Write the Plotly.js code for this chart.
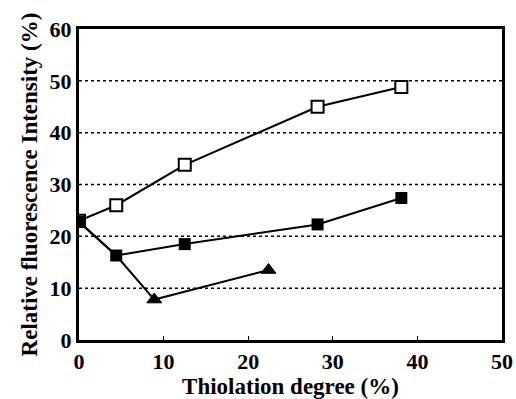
<!DOCTYPE html>
<html><head><meta charset="utf-8">
<script src="https://cdn.plot.ly/plotly-3.0.1.min.js"></script>
<style>html,body{margin:0;padding:0;background:#fff}#c{width:516px;height:399px}</style>
</head><body><div id="c"></div>
<script>
const openX = [0, 4.4, 12.5, 28.2, 38.1];
const openY = [23, 26, 33.8, 45.0, 48.8];
const filledX = [0, 4.4, 12.5, 28.2, 38.1];
const filledY = [22.8, 16.3, 18.5, 22.3, 27.4];
const triX = [0, 4.4, 8.9, 22.4];
const triY = [22.8, 16.3, 7.8, 13.5];
const xTicks = [0, 10, 20, 30, 40, 50];
const yTicks = [0, 10, 20, 30, 40, 50, 60];

const fam = 'Liberation Serif, Times New Roman, serif';
const traces = [
  {x: openX, y: openY, mode: 'lines+markers', line: {color: '#000', width: 2},
   marker: {symbol: 'square', size: 12, color: '#fff', line: {color: '#000', width: 2}}},
  {x: triX, y: triY, mode: 'lines+markers', line: {color: '#000', width: 2},
   marker: {symbol: 'triangle-up', size: [0, 0, 13, 13], color: '#000', opacity: 1, line: {color: '#000', width: 1}}},
  {x: filledX, y: filledY, mode: 'lines+markers', line: {color: '#000', width: 2},
   marker: {symbol: 'square', size: 12, color: '#000'}}
];
const layout = {
  width: 516, height: 399,
  margin: {l: 79, r: 14, t: 29, b: 59},
  paper_bgcolor: '#fff', plot_bgcolor: '#fff',
  showlegend: false,
  font: {family: fam, color: '#000'},
  xaxis: {range: [0, 50], tickvals: xTicks, ticktext: xTicks.map(v => '<b>' + v + '</b>'),
    showgrid: false, zeroline: false, showline: true, mirror: true, linecolor: '#000', linewidth: 3,
    ticks: 'inside', ticklen: 4, tickwidth: 1, tickcolor: '#000',
    tickfont: {family: fam, size: 22, color: '#000'},
    title: {text: '<b>Thiolation degree (%)</b>', font: {family: fam, size: 23, color: '#000'}, standoff: 2}},
  yaxis: {range: [0, 60], tickvals: yTicks, ticktext: yTicks.map(v => '<b>' + v + '</b>'),
    showgrid: false, zeroline: false, showline: true, mirror: true, linecolor: '#000', linewidth: 3,
    ticks: '', tickfont: {family: fam, size: 22, color: '#000'},
    title: {text: '<b>Relative fluorescence Intensity (%)</b>', font: {family: fam, size: 23, color: '#000'}, standoff: 6}},
  shapes: [10, 20, 30, 40, 50].map(v => ({type: 'line', xref: 'paper', x0: 0, x1: 1, yref: 'y', y0: v, y1: v,
    line: {color: '#000', width: 1.5, dash: 'dot'}, layer: 'below'}))
};
Plotly.newPlot('c', traces, layout, {staticPlot: true});
</script></body></html>
